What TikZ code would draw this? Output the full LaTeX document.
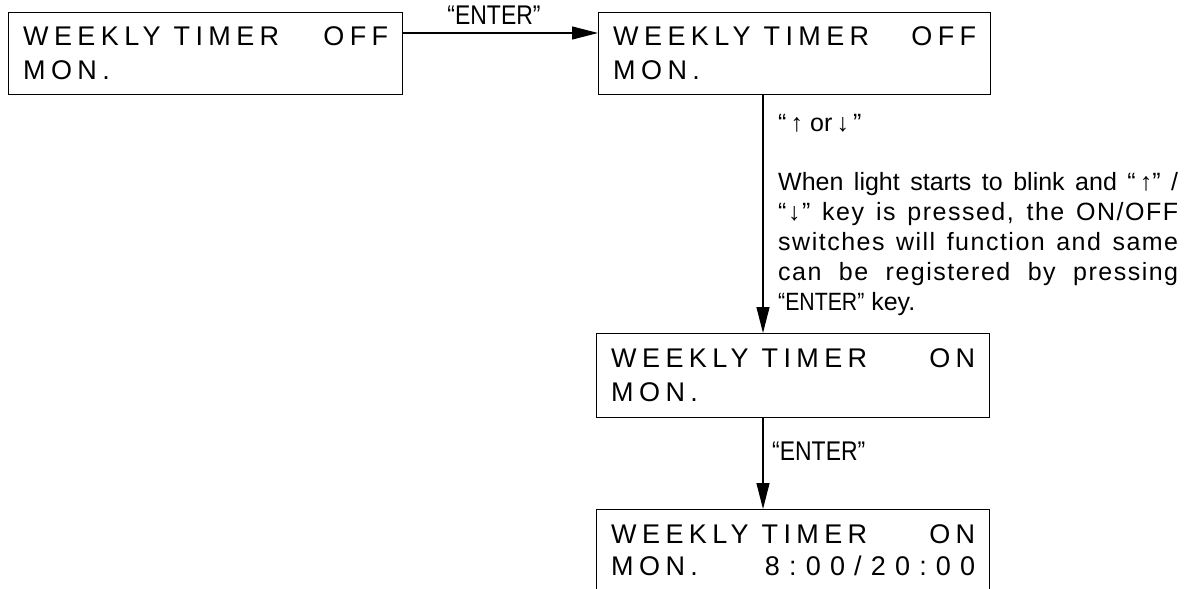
\documentclass[tikz,border=0pt]{standalone}
\usepackage{fontspec}
\setmainfont{Liberation Sans}
\newfontfamily\lcdfont[LetterSpace=20]{Liberation Sans}
\newfontfamily\bodyfont{Liberation Sans}
\newfontfamily\bodyls[LetterSpace=6]{Liberation Sans}
\newfontfamily\condfont[FakeStretch=0.85]{Liberation Sans}
\usetikzlibrary{arrows.meta}
\begin{document}
\begin{tikzpicture}[x=1pt,y=-1pt,
  lcdbox/.style={draw, line width=1.4pt, inner sep=0pt, anchor=north west,
    minimum height=82pt, font=\lcdfont\fontsize{27}{34}\selectfont},
  arr/.style={line width=1.2pt, -{Triangle[length=26pt,width=13pt]}},
  lbl/.style={inner sep=0pt, font=\condfont\fontsize{27}{32}\selectfont},
  txt/.style={inner sep=0pt, font=\bodyfont\fontsize{25}{30}\selectfont}]
\fill[white] (0,0) rectangle (1197,589);
\clip (0,0) rectangle (1197,589);

\node[lcdbox, minimum width=394pt] (b1) at (8,12)
  {\parbox{365pt}{WEEKLY TIMER\hfill OFF\\MON.}};
\node[lcdbox, minimum width=392pt] (b2) at (598,12)
  {\parbox{363pt}{WEEKLY TIMER\hfill OFF\\MON.}};
\node[lcdbox, minimum width=393pt, minimum height=84pt] (b3) at (596,333)
  {\parbox{364pt}{WEEKLY TIMER\hfill ON\\MON.}};
\node[lcdbox, minimum width=393pt, minimum height=80pt, font=\lcdfont\fontsize{27}{32}\selectfont] (b4) at (596,509)
  {\parbox{364pt}{WEEKLY TIMER\hfill ON\\MON.\hfill{\addfontfeature{LetterSpace=34}8:00/20:00}}};

\coordinate (v) at (763,0);
\draw[arr] ([yshift=-21pt]b1.north east) -- ([yshift=-21pt]b2.north west);
\draw[arr] (b2.south -| v) -- (b3.north -| v);
\draw[arr] (b3.south -| v) -- (b4.north -| v);

\node[lbl] (e1) at (494,15) {“ENTER”};
\node[txt, anchor=base west] (k) at (778,131) {“\,↑ or\,↓\,”};
\node[txt, anchor=base west] (note) at (778,190) {\parbox[t]{400pt}{%
When light starts to blink and “\,↑” /\linebreak
{\bodyls “↓” key is pressed, the ON/OFF}\linebreak
{\bodyls switches will function and same}\linebreak
{\bodyls can be registered by pressing}\linebreak
{\condfont “ENTER”} key.}};
\node[lbl, anchor=west] (e2) at (772,451) {“ENTER”};
\end{tikzpicture}
\end{document}
